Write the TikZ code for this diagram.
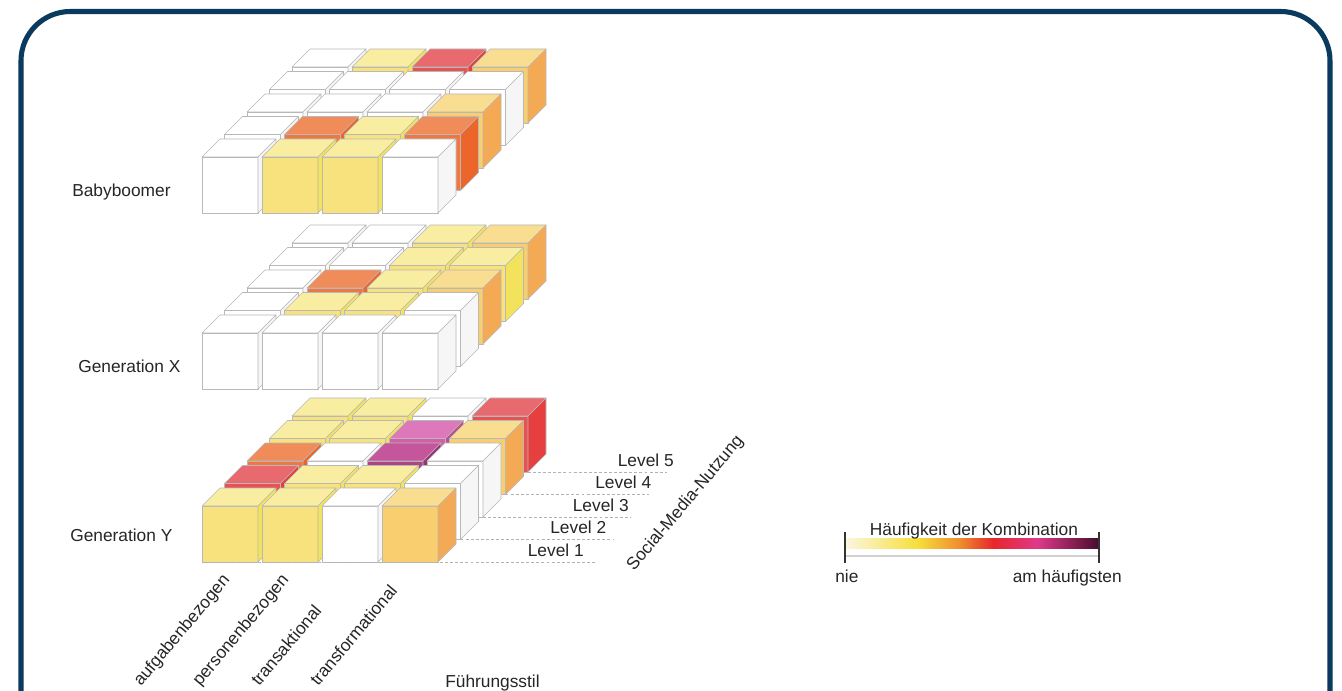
\documentclass[tikz,border=0pt]{standalone}
\usepackage{fontspec}
\setmainfont{Liberation Sans}
\definecolor{framecol}{HTML}{0A3A5E}
\definecolor{topw}{HTML}{FFFFFF}\definecolor{frontw}{HTML}{FFFFFF}\definecolor{sidew}{HTML}{F6F6F6}
\definecolor{topy}{HTML}{F8EDA0}\definecolor{fronty}{HTML}{F7E27E}\definecolor{sidey}{HTML}{F3E25C}
\definecolor{topl}{HTML}{F9DD90}\definecolor{frontl}{HTML}{F9CE6E}\definecolor{sidel}{HTML}{F4AA55}
\definecolor{topo}{HTML}{F08C5A}\definecolor{fronto}{HTML}{EE7843}\definecolor{sideo}{HTML}{EC662B}
\definecolor{topr}{HTML}{E96A6E}\definecolor{frontr}{HTML}{E75252}\definecolor{sider}{HTML}{E5403F}
\definecolor{topp}{HTML}{DD78BB}\definecolor{frontp}{HTML}{D260A8}\definecolor{sidep}{HTML}{C04C92}
\definecolor{topm}{HTML}{C5569B}\definecolor{frontm}{HTML}{AE4386}\definecolor{sidem}{HTML}{983572}
\definecolor{gA}{HTML}{FBF6DE}\definecolor{gB}{HTML}{F7DF3C}\definecolor{gC}{HTML}{EF8C2E}
\definecolor{gD}{HTML}{E6262A}\definecolor{gE}{HTML}{DF3A8A}\definecolor{gF}{HTML}{4A0D2E}
\tikzset{
	face/.style={draw=black!28,line width=0.45pt,line join=round},
	lab/.style={font=\fontsize{13}{15}\selectfont,text=black!85,inner sep=0pt},
	levelline/.style={draw=black!30,dash pattern=on 2.2pt off 1.6pt,line width=0.7pt},
	legtick/.style={draw=black!80,line width=2pt},
}
\newcommand{\cubeat}[3]{%
	\path[face,fill=front#3] (#1,#2) -- ++(56,0) -- ++(0,-56) -- ++(-56,0) -- cycle;
	\path[face,fill=top#3] (#1,#2-56) -- ++(56,0) -- ++(18,-18) -- ++(-56,0) -- cycle;
	\path[face,fill=side#3] (#1+56,#2) -- ++(18,-18) -- ++(0,-56) -- ++(-18,18) -- cycle;
}
\newcommand{\cubeblock}[6]{%
	\foreach \cells [count=\k] in {{#2},{#3},{#4},{#5},{#6}}{
		\foreach \t [count=\c from 0] in \cells{
			\pgfmathsetmacro\cx{202+60*\c+22.5*(5-\k)}
			\pgfmathsetmacro\cy{#1-22.5*(5-\k)}
			\cubeat{\cx}{\cy}{\t}
		}
	}
}
\begin{document}
\begin{tikzpicture}[x=0.75pt,y=-0.75pt]
	\clip (0,0) rectangle (1342,691);
	\fill[white] (0,0) rectangle (1342,691);
	\draw[framecol,line width=3.8pt,rounded corners=37pt] (21,11.5) rectangle (1330,760);

	\cubeblock{213}{w,y,r,l}{w,w,w,w}{w,w,w,l}{w,o,y,o}{w,y,y,w}
	\cubeblock{389}{w,w,y,l}{w,w,y,y}{w,o,y,l}{w,y,y,w}{w,w,w,w}
	\cubeblock{562}{y,y,w,r}{y,y,p,l}{o,w,m,w}{r,y,y,w}{y,y,w,l}

	\node[lab,anchor=base west] (bb) at (72,197) {Babyboomer};
	\node[lab,anchor=base west] (genx) at (78,373) {Generation X};
	\node[lab,anchor=base west] (geny) at (70,541) {Generation Y};

	\foreach \k in {1,...,5}{
		\pgfmathsetmacro\lx{\k==1 ? 202 : 438+22.5*(\k-1)}
		\coordinate (lvs\k) at (\lx,{562-22.5*(\k-1)});
		\coordinate (lve\k) at ({595+18*(\k-1)},{562-22.5*(\k-1)});
		\draw[levelline] (lvs\k) -- (lve\k);
		\node[lab,anchor=base east] (lvl\k) at ({584+22.5*(\k-1)},{556-22.5*(\k-1)}) {Level \k};
	}

	\foreach \stil [count=\c from 0] in {aufgabenbezogen,personenbezogen,transaktional,transformational}{
		\node[lab,rotate=50,anchor=base west] (fs\c) at ({141+59*\c},687) {\stil};
	}
	\node[lab,anchor=base west] (fuehrung) at (445,687) {Führungsstil};
	\node[lab,rotate=50,anchor=base west] (smn) at (634,572) {Social-Media-Nutzung};

	\shade[left color=gA,right color=gB] (846,538) rectangle (917.5,548);
	\shade[left color=gB,right color=gC] (917,538) rectangle (960.5,548);
	\shade[left color=gC,right color=gD] (960,538) rectangle (993.5,548);
	\shade[left color=gD,right color=gE] (993,538) rectangle (1037.5,548);
	\shade[left color=gE,right color=gF] (1037,538) rectangle (1098,548);
	\draw[black!18,line width=0.8pt] (846,556) -- (1098,556);
	\coordinate (tl) at (845,532);
	\coordinate (tr) at (1099,532);
	\draw[legtick] (tl) -- ++(0,31);
	\draw[legtick] (tr) -- ++(0,31);
	\node[lab,anchor=base] (legtitle) at (974,535) {Häufigkeit der Kombination};
	\node[lab,anchor=base west] (nie) at (835,582) {nie};
	\node[lab,anchor=base east] (amh) at (1122,582) {am häufigsten};
\end{tikzpicture}
\end{document}
